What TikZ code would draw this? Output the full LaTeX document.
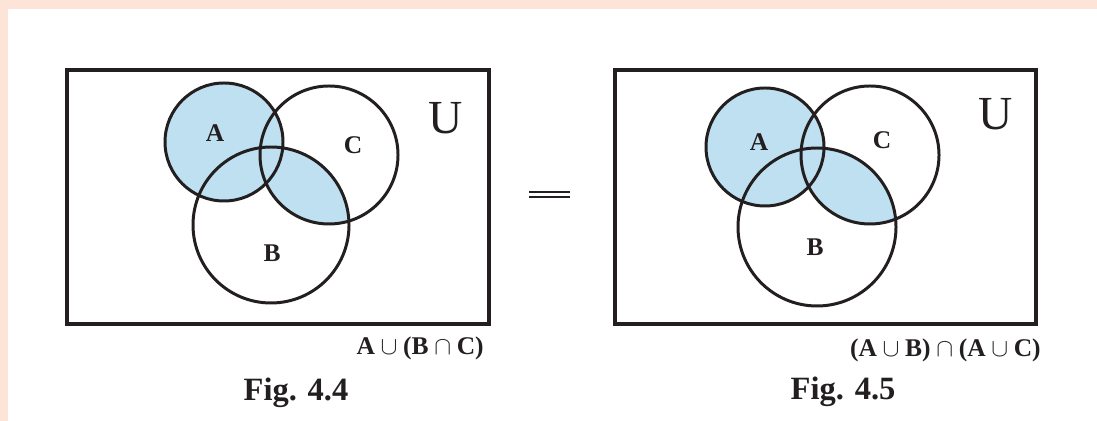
\documentclass[tikz,border=0pt]{standalone}
\usepackage{fontspec}
\setmainfont{Liberation Serif}
\definecolor{venn}{RGB}{190,224,240}
\definecolor{peach}{RGB}{252,228,214}
\definecolor{ink}{RGB}{35,31,32}
\tikzset{
  setline/.style={ink, line width=1.7pt},
  frame/.style={ink, line width=2.3pt},
  setname/.style={font=\fontsize{14.5}{16}\selectfont\bfseries, text=ink, inner sep=0pt},
  universe/.style={font=\fontsize{27}{30}\selectfont, text=ink, inner sep=0pt},
  formula/.style={font=\fontsize{14.5}{16}\selectfont\bfseries, text=ink, inner sep=0pt, anchor=base east},
  figname/.style={font=\fontsize{18.5}{20}\selectfont\bfseries, text=ink, inner sep=0pt, anchor=base},
}
\begin{document}
\begin{tikzpicture}[x=0.02cm, y=-0.02cm]
			\useasboundingbox (0,0) rectangle (1097,421);
			\fill[peach] (0,0) rectangle (1097,421);
			\fill[white] (8,9) rectangle (1097,421);
			
			% Fig. 4.4
			\coordinate (A1) at (224,142);
			\coordinate (C1) at (329,155);
			\coordinate (B1) at (271,225);
			\fill[venn] (A1) circle[radius=59];
			\begin{scope}
				\clip (B1) circle[radius=78];
				\fill[venn] (C1) circle[radius=69];
			\end{scope}
			\draw[setline] (A1) circle[radius=59];
			\draw[setline] (C1) circle[radius=69];
			\draw[setline] (B1) circle[radius=78];
			\draw[frame] (67,70) rectangle (489,324);
			\node[setname] (a1) at (215,133) {A};
			\node[setname] (c1) at (353,145) {C};
			\node[setname] (b1) at (272,253) {B};
			\node[universe] (u1) at (446,118) {U};
			\node[formula] (f1) at (484,355) {A$\:\cup\:$(B$\:\cap\:$C)};
			\node[figname] (fig1) at (296,400) {Fig. 4.4};
			
			% gleich
			\draw[ink, line width=1.1pt] (529,192) -- (570,192);
			\draw[ink, line width=1.1pt] (529,197) -- (570,197);
			
			% Fig. 4.5
			\coordinate (A2) at (765,147);
			\coordinate (C2) at (870,155);
			\coordinate (B2) at (817,227);
			\fill[venn] (A2) circle[radius=59];
			\begin{scope}
				\clip (B2) circle[radius=79];
				\fill[venn] (C2) circle[radius=69];
			\end{scope}
			\draw[setline] (A2) circle[radius=59];
			\draw[setline] (C2) circle[radius=69];
			\draw[setline] (B2) circle[radius=79];
			\draw[frame] (615,70) rectangle (1036,324);
			\node[setname] (a2) at (759,142) {A};
			\node[setname] (c2) at (882,140) {C};
			\node[setname] (b2) at (815,247) {B};
			\node[universe] (u2) at (996,114) {U};
			\node[formula] (f2) at (1041,357) {(A$\:\cup\:$B)$\:\cap\:$(A$\:\cup\:$C)};
			\node[figname] (fig2) at (843,399) {Fig. 4.5};
\end{tikzpicture}
\end{document}
